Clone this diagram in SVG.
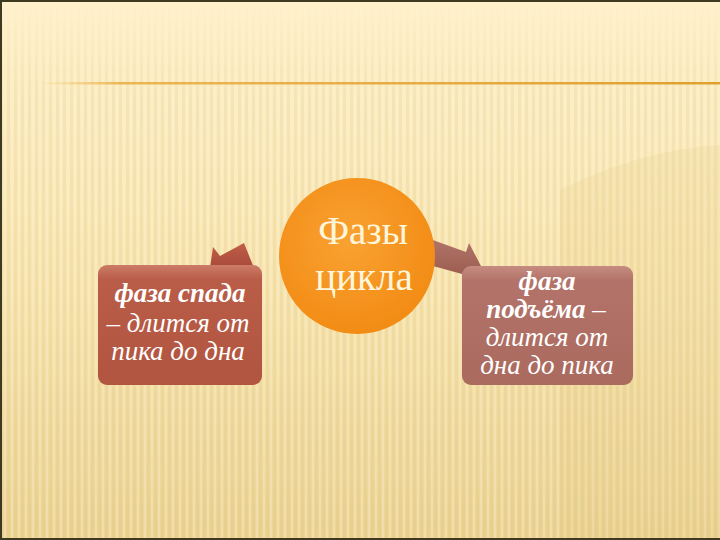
<svg xmlns="http://www.w3.org/2000/svg" width="720" height="540" viewBox="0 0 720 540">
<defs>
<linearGradient id="bg" x1="0" y1="0" x2="0" y2="1">
<stop offset="0" stop-color="#FEF1CC"/>
<stop offset="0.5" stop-color="#F8E6B4"/>
<stop offset="1" stop-color="#EBD496"/>
</linearGradient>
<pattern id="stripes" width="7" height="540" patternUnits="userSpaceOnUse">
<rect x="0" y="0" width="3" height="540" fill="#D9B860" opacity="0.16"/>
<rect x="4" y="0" width="2" height="540" fill="#FFF8DC" opacity="0.25"/>
</pattern>
<linearGradient id="stripeFade" x1="0" y1="0" x2="0" y2="1">
<stop offset="0" stop-color="#fff" stop-opacity="0"/>
<stop offset="0.18" stop-color="#fff" stop-opacity="0.9"/>
<stop offset="1" stop-color="#fff" stop-opacity="1"/>
</linearGradient>
<mask id="sm"><rect width="720" height="540" fill="url(#stripeFade)"/></mask>
<linearGradient id="gold" x1="0" y1="0" x2="1" y2="0">
<stop offset="0" stop-color="#F0B040" stop-opacity="0"/>
<stop offset="0.12" stop-color="#E8A838" stop-opacity="0.8"/>
<stop offset="1" stop-color="#E0A030"/>
</linearGradient>
<radialGradient id="orb" cx="0.45" cy="0.4" r="0.65">
<stop offset="0" stop-color="#F9A232"/>
<stop offset="1" stop-color="#F28A12"/>
</radialGradient>
<linearGradient id="boxL" x1="0" y1="0" x2="0" y2="1">
<stop offset="0" stop-color="#CB7C68"/>
<stop offset="0.12" stop-color="#B95D48"/>
<stop offset="1" stop-color="#B25540"/>
</linearGradient>
<linearGradient id="boxR" x1="0" y1="0" x2="0" y2="1">
<stop offset="0" stop-color="#C68C80"/>
<stop offset="0.12" stop-color="#B3736A"/>
<stop offset="1" stop-color="#AA6A5E"/>
</linearGradient>
<linearGradient id="arrL" x1="0" y1="0" x2="0" y2="1">
<stop offset="0" stop-color="#C06048"/>
<stop offset="1" stop-color="#A8483A"/>
</linearGradient>
<linearGradient id="arrR" x1="0" y1="0" x2="0" y2="1">
<stop offset="0" stop-color="#B07468"/>
<stop offset="1" stop-color="#9E5E52"/>
</linearGradient>
</defs>
<style>
.t{font-family:"Liberation Serif","DejaVu Serif",serif;fill:#FFFFFF;text-anchor:middle;font-style:italic;font-size:27px}
.b{font-weight:bold}
.c{font-family:"Liberation Serif","DejaVu Serif",serif;fill:#FFF6DC;text-anchor:middle;font-size:39px}
</style>
<rect width="720" height="540" fill="url(#bg)"/>
<rect width="720" height="540" fill="url(#stripes)" mask="url(#sm)"/>
<path d="M560 190 Q640 150 720 145 L720 540 L560 540 Z" fill="#E6C880" opacity="0.18"/>
<rect x="0" y="0" width="720" height="2" fill="#3E3A22"/>
<rect x="0" y="0" width="2" height="540" fill="#3E3A22"/>
<rect x="0" y="538" width="720" height="2" fill="#3E3A22"/>
<rect x="40" y="82" width="680" height="2.5" fill="url(#gold)"/>
<g id="connectors">
<polygon points="210,268 213,247 220,256 244,243 254,268" fill="url(#arrL)"/>
<polygon points="430,239 466,252 469,243 482,268 462,274 422,263" fill="url(#arrR)"/>
</g>
<g id="center">
<circle cx="357" cy="256" r="78" fill="url(#orb)"/>
<text class="c" x="363" y="244">Фазы</text>
<text class="c" x="364" y="290">цикла</text>
</g>
<g id="left">
<rect x="98" y="265" width="164" height="120" rx="9" fill="url(#boxL)"/>
<text class="t b" x="180" y="302">фаза спада</text>
<text class="t" x="178" y="332">– длится от</text>
<text class="t" x="178" y="360">пика до дна</text>
</g>
<g id="right">
<rect x="462" y="266" width="171" height="119" rx="9" fill="url(#boxR)"/>
<text class="t b" x="547" y="290">фаза</text>
<text class="t" x="546" y="318"><tspan class="b">подъёма</tspan> –</text>
<text class="t" x="547" y="346">длится от</text>
<text class="t" x="547" y="374">дна до пика</text>
</g>
</svg>
